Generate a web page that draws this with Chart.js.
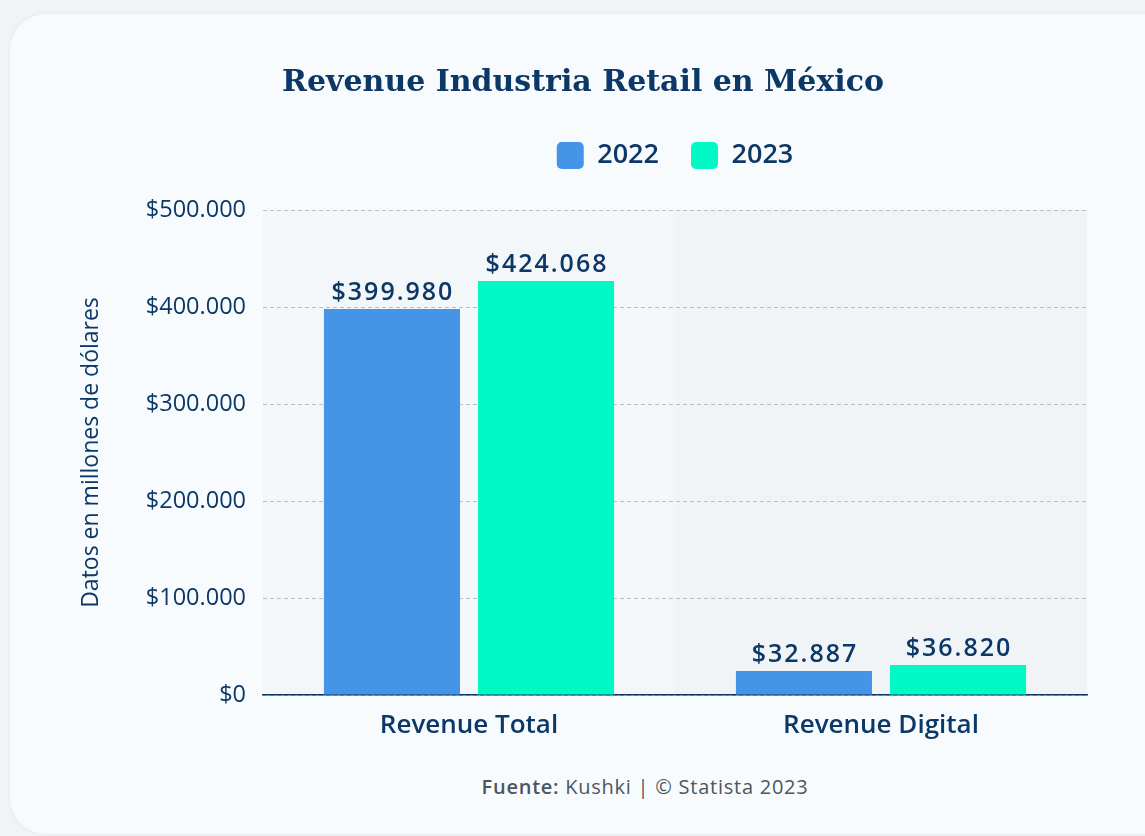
<!DOCTYPE html>
<html>
<head>
<meta charset="utf-8">
<script src="https://cdn.jsdelivr.net/npm/chart.js@4.4.0/dist/chart.umd.min.js"></script>
<style>
  html, body { margin: 0; padding: 0; width: 1145px; height: 836px; overflow: hidden; background: #f1f4f7; }
  .card { position: absolute; left: 10px; top: 14px; width: 1270px; height: 820px; border-radius: 36px; background: #f8fbfd; box-shadow: 0 0 5px rgba(0,0,0,0.06); }
  .wrap { position: absolute; left: 0; top: 0; width: 1166px; height: 760px; }
  .src { position: absolute; left: 0; width: 1290px; top: 773px; text-align: center; font: 20px "Open Sans", "Noto Sans", sans-serif; letter-spacing: 0.75px; color: #4b5661; }
  .src b { font-weight: 600; }
</style>
</head>
<body>
<div class="card"></div>
<div class="wrap"><canvas id="myChart"></canvas></div>
<div class="src"><b>Fuente:</b> Kushki | © Statista 2023</div>
<script>
const categories = ['Revenue Total', 'Revenue Digital'];
const years = ['2022', '2023'];
// bar heights as drawn, and the printed labels above them
const values2022 = [398000, 24700];
const values2023 = [426800, 30900];
const labels2022 = ['$399.980', '$32.887'];
const labels2023 = ['$424.068', '$36.820'];
const yMax = 500000;
const yStep = 100000;

const navy = '#0c3868';
const bandColors = ['#f4f7fa', '#f1f4f7'];
const labelTexts = [labels2022, labels2023];

const fmt = v => '$' + String(v).replace(/\B(?=(\d{3})+(?!\d))/g, '.');

const bands = {
  id: 'bands',
  beforeDraw(chart) {
    const { ctx, chartArea, scales: { x } } = chart;
    const w = (chartArea.right - chartArea.left) / categories.length;
    ctx.save();
    categories.forEach((c, i) => {
      ctx.fillStyle = bandColors[i % bandColors.length];
      ctx.fillRect(x.getPixelForValue(i) - w / 2, chartArea.top, w, chartArea.bottom - chartArea.top);
    });
    ctx.restore();
  }
};

const valueLabels = {
  id: 'valueLabels',
  afterDatasetsDraw(chart) {
    const ctx = chart.ctx;
    ctx.save();
    ctx.font = '600 25px "Open Sans"';
    ctx.letterSpacing = '2px';
    ctx.fillStyle = navy;
    ctx.textAlign = 'center';
    ctx.textBaseline = 'alphabetic';
    chart.data.datasets.forEach((ds, i) => {
      chart.getDatasetMeta(i).data.forEach((bar, j) => {
        ctx.fillText(labelTexts[i][j], bar.x + 1, bar.y - 9);
      });
    });
    ctx.restore();
  }
};

const legendGap = {
  id: 'legendGap',
  beforeInit(chart) {
    const fit = chart.legend.fit;
    chart.legend.fit = function () {
      fit.bind(chart.legend)();
      this.height += 31;
    };
  }
};

const data = {
  labels: categories,
  datasets: [{
    label: years[0],
    data: values2022,
    backgroundColor: '#4694e8',
    categoryPercentage: 0.748,
    barPercentage: 0.883
  }, {
    label: years[1],
    data: values2023,
    backgroundColor: '#00f9c5',
    categoryPercentage: 0.748,
    barPercentage: 0.883
  }]
};

const config = {
  type: 'bar',
  data: data,
  plugins: [bands, valueLabels, legendGap],
  options: {
    responsive: true,
    maintainAspectRatio: false,
    animation: false,
    layout: { padding: 0 },
    plugins: {
      tooltip: { enabled: false },
      title: {
        display: true,
        text: 'Revenue Industria Retail en México',
        color: navy,
        font: { family: 'DejaVu Serif', size: 30, weight: 'bold' },
        padding: { top: 65, bottom: 9 }
      },
      legend: {
        fullSize: false,
        labels: {
          color: navy,
          font: { family: 'Open Sans', size: 27, weight: '600' },
          boxWidth: 27,
          boxHeight: 27,
          useBorderRadius: true,
          borderRadius: 5,
          padding: 32
        }
      }
    },
    scales: {
      x: {
        grid: { display: false },
        border: { display: true, color: navy, width: 1.5 },
        ticks: { color: navy, padding: 7, font: { family: 'Open Sans', size: 26, weight: '600' } },
        afterFit(scale) { scale.height = 65; }
      },
      y: {
        min: 0,
        max: yMax,
        ticks: {
          stepSize: yStep,
          color: navy,
          padding: 17,
          font: { family: 'Open Sans', size: 23.5 },
          callback: v => fmt(v)
        },
        grid: { color: '#babfc5', lineWidth: 1, drawTicks: false },
        border: { display: false, dash: [4, 3] },
        title: {
          display: true,
          text: 'Datos en millones de dólares',
          color: navy,
          font: { family: 'Open Sans', size: 23 },
          padding: { top: 78, bottom: 0 }
        },
        afterFit(scale) { scale.width = 263; }
      },
      // empty right-hand strip so the plot ends where the reference's does
      y2: {
        position: 'right',
        display: true,
        grid: { display: false },
        border: { display: false },
        ticks: { display: false },
        afterFit(scale) { scale.width = 79; }
      }
    }
  }
};

const myChart = new Chart(document.getElementById('myChart'), config);
</script>
</body>
</html>
